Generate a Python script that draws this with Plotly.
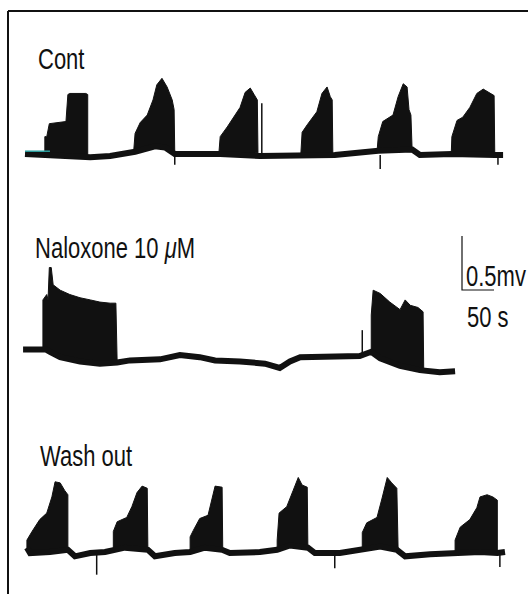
import plotly.graph_objects as go

# ---------------- data (time in s, potential in mV relative to row baseline) -------------
# Row 1: Cont
cont_base_t = [0, 39, 102, 133, 172, 203, 219, 234, 305, 367, 430, 484, 552, 605, 617, 667, 734, 747]
cont_base_v = [0.01, 0, -0.02, -0.01, 0.03, 0.08, 0.07, 0.01, 0.01, -0.01, 0, 0, 0.04, 0.05, 0, 0.01, 0, 0]
cont_bursts_t = [
    [31, 31, 34, 38, 64, 67, 70, 95, 98, 98],
    [170, 172, 180, 191, 200, 206, 214, 222, 230, 233, 234],
    [303, 305, 316, 325, 336, 344, 352, 358, 363, 364],
    [431, 433, 441, 456, 464, 472, 477, 480, 481],
    [550, 552, 559, 575, 583, 591, 597, 600, 603, 605],
    [666, 667, 675, 684, 695, 706, 716, 727, 733, 734],
]
cont_bursts_v = [
    [0.02, 0.17, 0.17, 0.29, 0.31, 0.56, 0.57, 0.57, 0.56, -0.01],
    [0.05, 0.20, 0.30, 0.37, 0.51, 0.65, 0.71, 0.63, 0.51, 0.42, 0.02],
    [0.02, 0.17, 0.26, 0.34, 0.44, 0.58, 0.62, 0.56, 0.51, 0.02],
    [0.01, 0.21, 0.28, 0.40, 0.57, 0.63, 0.54, 0.51, 0.01],
    [0.03, 0.17, 0.31, 0.37, 0.54, 0.66, 0.63, 0.42, 0.37, 0.03],
    [0.01, 0.17, 0.32, 0.35, 0.44, 0.57, 0.61, 0.57, 0.55, 0.01],
]
cont_spike_t = [234, 370, 555, 739]
cont_spike_v = [-0.09, 0.48, -0.13, -0.09]
cont_marker_t = [0, 39]
cont_marker_v = [0.035, 0.035]

# Row 2: Naloxone 10 uM
nal_base_t = [-3, 28, 33, 39, 55, 86, 117, 144, 164, 211, 242, 273, 297, 336, 375, 398, 414, 430,
              477, 523, 541, 555, 586, 617, 648, 672]
nal_base_v = [0.05, 0.05, 0.05, 0.03, -0.02, -0.06, -0.08, -0.07, -0.05, -0.04, 0, -0.02, -0.05,
              -0.06, -0.08, -0.12, -0.06, -0.02, -0.02, -0.01, 0.03, -0.03, -0.10, -0.14, -0.16, -0.15]
nal_bursts_t = [
    [28, 28, 34, 36, 38, 41, 44, 55, 70, 86, 102, 117, 133, 142, 144],
    [541, 541, 544, 555, 570, 586, 594, 602, 614, 622, 623],
]
nal_bursts_v = [
    [0.05, 0.51, 0.56, 0.51, 0.81, 0.81, 0.65, 0.60, 0.56, 0.53, 0.51, 0.49, 0.48, 0.48, -0.07],
    [0.03, 0.37, 0.60, 0.57, 0.49, 0.42, 0.51, 0.46, 0.44, 0.40, -0.14],
]
nal_spike_t = [527]
nal_spike_v = [0.23]

# Row 3: Wash out
wash_base_t = [3, 8, 39, 67, 78, 102, 125, 138, 156, 192, 203, 234, 258, 281, 308, 320, 367, 394,
               414, 442, 453, 492, 527, 555, 581, 594, 633, 672, 711, 738, 750]
wash_base_v = [0.04, -0.01, 0, 0.02, -0.04, -0.01, 0, 0.02, 0.04, 0.02, -0.04, -0.01, 0, 0.04, 0.02,
               -0.01, 0, 0.02, 0.06, 0.04, -0.01, -0.01, 0.02, 0.05, 0.02, -0.04, -0.02, -0.01, 0,
               -0.01, 0]
wash_bursts_t = [
    [3, 3, 11, 23, 34, 42, 47, 55, 62, 67, 67],
    [138, 138, 144, 159, 167, 175, 183, 191, 192],
    [258, 258, 263, 273, 286, 294, 297, 308, 309],
    [394, 394, 397, 409, 419, 427, 433, 441, 442],
    [527, 527, 534, 550, 558, 566, 573, 581, 583],
    [672, 672, 680, 695, 706, 711, 722, 731, 738, 738],
]
wash_bursts_v = [
    [0.02, 0.11, 0.19, 0.30, 0.36, 0.51, 0.65, 0.64, 0.57, 0.53, 0.02],
    [0.02, 0.19, 0.28, 0.32, 0.42, 0.55, 0.61, 0.59, 0.02],
    [0.01, 0.14, 0.20, 0.31, 0.34, 0.53, 0.61, 0.60, 0.01],
    [0.03, 0.11, 0.36, 0.42, 0.57, 0.69, 0.62, 0.60, 0.03],
    [0.02, 0.18, 0.27, 0.32, 0.50, 0.69, 0.64, 0.59, 0.02],
    [0, 0.11, 0.23, 0.30, 0.41, 0.51, 0.53, 0.51, 0.48, 0],
]
wash_spike_t = [112, 484, 742]
wash_spike_v = [-0.21, -0.15, -0.14]

row_labels = ["Cont", "Naloxone 10 <i>\u03bc</i>M", "Wash out"]
scale_mv = 0.5
scale_s = 50
scale_labels = ["0.5mv", "50 s"]

# ---------------- layout constants ----------------
W, H = 528, 594
PX_PER_S = 0.64
PX_PER_MV = 108
X0_PX = 25
ROW_BASE_PX = [155, 355, 552]
INK = "#111111"

fig = go.Figure()

rows = [
    (cont_base_t, cont_base_v, cont_bursts_t, cont_bursts_v, cont_spike_t, cont_spike_v),
    (nal_base_t, nal_base_v, nal_bursts_t, nal_bursts_v, nal_spike_t, nal_spike_v),
    (wash_base_t, wash_base_v, wash_bursts_t, wash_bursts_v, wash_spike_t, wash_spike_v),
]
yrefs = ["y", "y2", "y3"]

for i, (bt, bv, bursts_t, bursts_v, st, sv) in enumerate(rows):
    yref = yrefs[i]
    # bursts as filled envelopes: top edge forward, baseline back
    for tt, vv in zip(bursts_t, bursts_v):
        inner = [(t, v) for t, v in zip(bt, bv) if tt[0] < t < tt[-1]][::-1]
        px = list(tt) + [p[0] for p in inner]
        py = list(vv) + [p[1] for p in inner]
        fig.add_trace(go.Scatter(x=px, y=py, mode="lines", fill="toself", fillcolor=INK,
                                 line=dict(color=INK, width=1), yaxis=yref,
                                 hoverinfo="skip", showlegend=False))
    # baseline
    fig.add_trace(go.Scatter(x=bt, y=bv, mode="lines", line=dict(color=INK, width=6),
                             yaxis=yref, hoverinfo="skip", showlegend=False))
    # isolated spikes
    sx, sy = [], []
    for t, v in zip(st, sv):
        sx += [t, t, None]
        sy += [0, v, None]
    fig.add_trace(go.Scatter(x=sx, y=sy, mode="lines", line=dict(color=INK, width=1.5),
                             yaxis=yref, hoverinfo="skip", showlegend=False))

# teal start marker on first row
fig.add_trace(go.Scatter(x=cont_marker_t, y=cont_marker_v, mode="lines",
                         line=dict(color="#2a9d9d", width=1.5), yaxis="y",
                         hoverinfo="skip", showlegend=False))

# scale bar (on row 2 axis)
sb_t0 = (462 - X0_PX) / PX_PER_S
sb_v0 = (ROW_BASE_PX[1] - 290) / PX_PER_MV
fig.add_trace(go.Scatter(x=[sb_t0, sb_t0, sb_t0 + scale_s],
                         y=[sb_v0 + scale_mv, sb_v0, sb_v0],
                         mode="lines", line=dict(color=INK, width=1.2), yaxis="y2",
                         hoverinfo="skip", showlegend=False))

x_range = [-X0_PX / PX_PER_S, (W - X0_PX) / PX_PER_S]
axis_common = dict(visible=False, showgrid=False, zeroline=False, fixedrange=True)

def yrange(base_px):
    return [-(H - base_px) / PX_PER_MV, base_px / PX_PER_MV]

font_main = dict(family="Liberation Sans, Arial, sans-serif", size=22, color=INK)

annotations = []
label_pos = [(36, 58), (33, 247), (38, 456)]
for lab, (lx, ly) in zip(row_labels, label_pos):
    annotations.append(dict(text=lab, x=lx / W, y=1 - ly / H, xref="paper", yref="paper",
                            xanchor="left", yanchor="middle", showarrow=False, font=font_main))
for lab, (lx, ly) in zip(scale_labels, [(464, 275), (465, 316)]):
    annotations.append(dict(text=lab, x=lx / W, y=1 - ly / H, xref="paper", yref="paper",
                            xanchor="left", yanchor="middle", showarrow=False, font=font_main))

fx = 8 / W
fy = 1 - 11 / H
shapes = [
    dict(type="line", xref="paper", yref="paper", x0=fx, y0=fy, x1=1, y1=fy,
         line=dict(color=INK, width=2)),
    dict(type="line", xref="paper", yref="paper", x0=fx, y0=fy, x1=fx, y1=0,
         line=dict(color=INK, width=2)),
]

fig.update_layout(
    width=W, height=H, margin=dict(l=0, r=0, t=0, b=0),
    paper_bgcolor="white", plot_bgcolor="white",
    xaxis=dict(range=x_range, domain=[0, 1], **axis_common),
    yaxis=dict(range=yrange(ROW_BASE_PX[0]), domain=[0, 1], **axis_common),
    yaxis2=dict(range=yrange(ROW_BASE_PX[1]), domain=[0, 1], overlaying="y", **axis_common),
    yaxis3=dict(range=yrange(ROW_BASE_PX[2]), domain=[0, 1], overlaying="y", **axis_common),
    annotations=annotations, shapes=shapes, showlegend=False,
)

post = (
    "document.body.style.margin='0';document.body.style.overflow='hidden';"
    "document.querySelectorAll('.annotation-text').forEach(function(e){"
    "e.style.transformBox='fill-box';e.style.transformOrigin='center';"
    "e.style.transform='scaleY(1.35)';});"
)

fig.write_html("out.html", post_script=post, config={"displayModeBar": False})
